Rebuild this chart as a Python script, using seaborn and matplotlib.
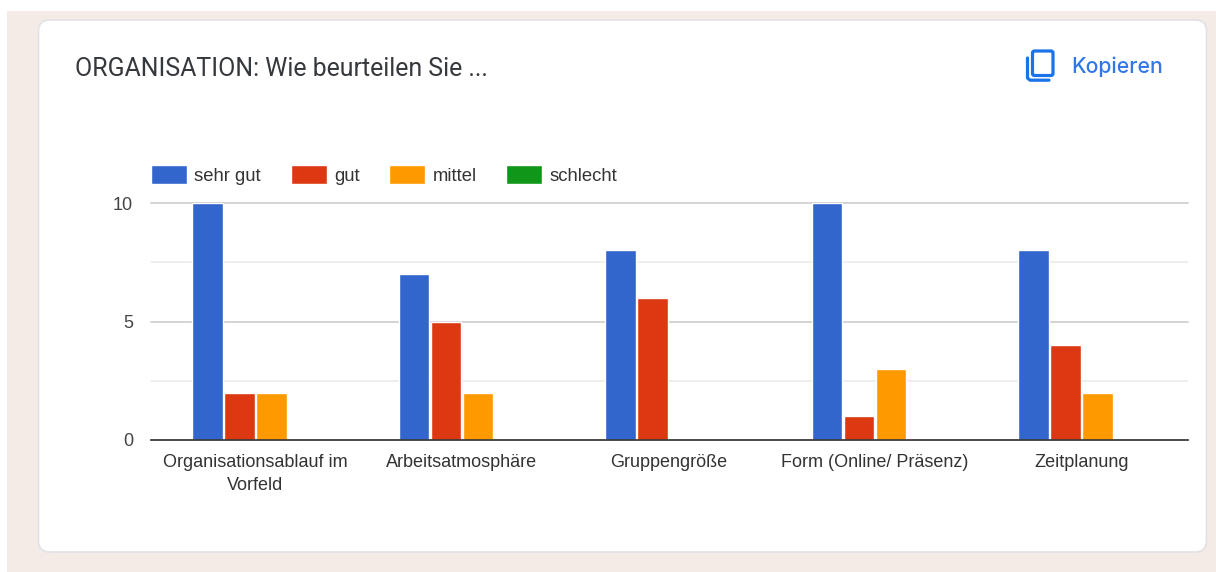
import matplotlib
matplotlib.use('Agg')
import matplotlib.pyplot as plt
from matplotlib.patches import FancyBboxPatch, Rectangle
import pandas as pd
import seaborn as sns

categories = ['Organisationsablauf im\nVorfeld', 'Arbeitsatmosphäre', 'Gruppengröße',
              'Form (Online/ Präsenz)', 'Zeitplanung']
ratings = ['sehr gut', 'gut', 'mittel', 'schlecht']
sehr_gut = [10, 7, 8, 10, 8]
gut = [2, 5, 6, 1, 4]
mittel = [2, 2, 0, 3, 2]
schlecht = [0, 0, 0, 0, 0]
colors = ['#3366cc', '#dc3912', '#ff9900', '#109618']

W, H = 1216, 572

sns.set_theme(style='white')
plt.rcParams['font.family'] = ['Liberation Sans', 'DejaVu Sans']

df = pd.DataFrame({'cat': categories, 'sehr gut': sehr_gut, 'gut': gut,
                   'mittel': mittel, 'schlecht': schlecht})
long_df = df.melt(id_vars='cat', value_vars=ratings, var_name='rating', value_name='count')

fig = plt.figure(figsize=(W / 100, H / 100), dpi=100, facecolor='white')

# Hintergrund und Karte, Koordinaten in Pixeln
bg = fig.add_axes([0, 0, 1, 1], zorder=0)
bg.set_xlim(0, W)
bg.set_ylim(H, 0)
bg.axis('off')
bg.add_patch(Rectangle((7, 11), W - 7, H - 11, color='#f4ebe6', lw=0))
bg.add_patch(FancyBboxPatch((38.5, 20), 1168, 532, boxstyle='round,pad=0,rounding_size=11',
                            fc='white', ec='#e2e2e6', lw=1.2))
bg.text(75, 68.5, 'ORGANISATION: Wie beurteilen Sie ...', family='Roboto', fontsize=17.9,
        color='#35383c', va='center', ha='left')
bg.text(1071, 66.5, 'Kopieren', family='Inter', fontsize=15.3, fontweight='medium',
        color='#3178e6', va='center', ha='left')

# Kopieren-Symbol
blue = '#1a73e8'
bg.add_patch(FancyBboxPatch((1032.5, 51), 20.5, 24.5, boxstyle='round,pad=0,rounding_size=2',
                            fc='none', ec=blue, lw=2.3))
bg.plot([1027.5, 1027.5, 1030, 1049], [58, 78, 80.2, 80.2], color=blue, lw=2.3)

# Diagramm
left, right, top, bottom = 151, 1188, 203, 440
ax = fig.add_axes([left / W, 1 - bottom / H, (right - left) / W, (bottom - top) / H], zorder=1)
ax.patch.set_alpha(0)

sns.barplot(data=long_df, x='cat', y='count', hue='rating', hue_order=ratings,
            palette=colors, width=0.619, gap=0.04, saturation=1, ax=ax)

ax.set_xlim(-0.505, 4.515)
ax.set_ylim(0, 10)
ax.set_xlabel('')
ax.set_ylabel('')
ax.set_yticks([0, 5, 10])
ax.set_yticks([2.5, 7.5], minor=True)
ax.grid(True, axis='y', which='major', color='#cccccc', lw=1.2)
ax.grid(True, axis='y', which='minor', color='#ebebeb', lw=1.2)
ax.set_axisbelow(True)
for line in ax.get_ygridlines():
    line.set_clip_on(False)
ax.tick_params(axis='x', length=0, pad=10, labelsize=13, labelcolor='#333333')
ax.tick_params(axis='y', which='both', length=0, pad=13, labelsize=13, labelcolor='#444444')
for label in ax.get_xticklabels():
    label.set_linespacing(1.45)
for side in ['top', 'right', 'left']:
    ax.spines[side].set_visible(False)
ax.spines['bottom'].set_color('#333333')
ax.spines['bottom'].set_linewidth(1.2)

sns.move_legend(ax, 'lower left', bbox_to_anchor=(151 / W, 1 - 185 / H),
                bbox_transform=fig.transFigure, ncol=4, frameon=False, title=None,
                fontsize=13.3, labelcolor='#333333', borderpad=0, borderaxespad=0,
                handlelength=1.95, handleheight=1.2, handletextpad=0.4, columnspacing=1.6)

plt.savefig('out.png', dpi=100)
plt.close()
